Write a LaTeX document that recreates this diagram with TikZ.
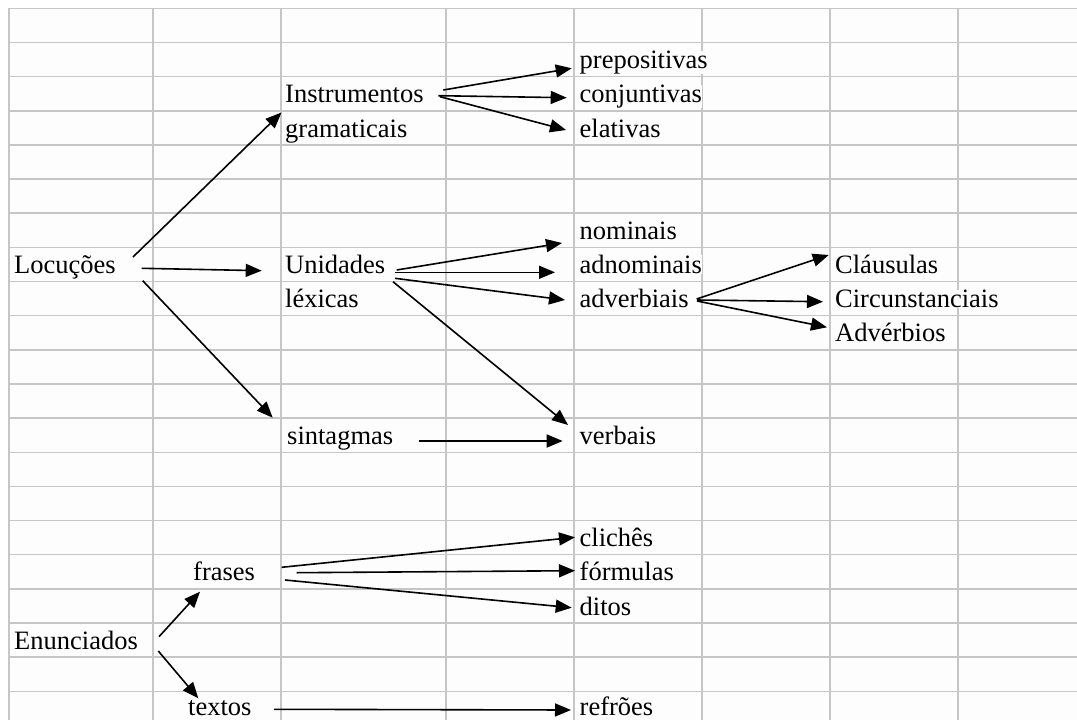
\documentclass[tikz,border=0pt]{standalone}
\usepackage{fontspec}
\setmainfont{Liberation Serif}
\usetikzlibrary{arrows.meta}
\definecolor{gridc}{RGB}{198,198,198}
\definecolor{cellbg}{RGB}{253,253,253}
\tikzset{
  gridline/.style={draw=gridc, line width=1.5pt},
  lbl/.style={anchor=base west, inner sep=0pt, fill=cellbg, font=\fontsize{26.5}{30}\selectfont},
  arr/.style={line width=1.6pt, -{Triangle[length=16pt,width=13pt]}}
}
\begin{document}
\begin{tikzpicture}[x=1pt,y=-1pt]
\useasboundingbox (0,0) rectangle (1077,720);
\fill[white] (0,0) rectangle (1077,720);
\fill[cellbg] (9,8.3) rectangle (1077,720);
\foreach \i in {0,...,20} \draw[gridline] (9,{8.3+34.15*\i}) -- (1077,{8.3+34.15*\i});
\foreach \x in {9,153,281,446,574,702,830,958} \draw[gridline] (\x,8.3) -- (\x,720);

% labels
\node[lbl] (loc) at (14,273.5) {Locuções};
\node[lbl] (ins) at (285,102.8) {Instrumentos};
\node[lbl] (gra) at (285,137) {gramaticais};
\node[lbl] (pre) at (579.5,68.6) {prepositivas};
\node[lbl] (con) at (579.5,102.8) {conjuntivas};
\node[lbl] (ela) at (579.5,137) {elativas};
\node[lbl] (nom) at (579.5,239.4) {nominais};
\node[lbl] (uni) at (285,273.5) {Unidades};
\node[lbl] (lex) at (285,307.7) {léxicas};
\node[lbl] (adn) at (579.5,273.5) {adnominais};
\node[lbl] (adv) at (579.5,307.7) {adverbiais};
\node[lbl] (cla) at (835,273.5) {Cláusulas};
\node[lbl] (cir) at (835,307.7) {Circunstanciais};
\node[lbl] (advb) at (835,341.8) {Advérbios};
\node[lbl] (sin) at (287,444.3) {sintagmas};
\node[lbl] (ver) at (579.5,444.3) {verbais};
\node[lbl] (cli) at (579.5,546.7) {clichês};
\node[lbl] (for) at (579.5,580.8) {fórmulas};
\node[lbl] (dit) at (579.5,615) {ditos};
\node[lbl] (fra) at (193,580.8) {frases};
\node[lbl] (enu) at (14,649.1) {Enunciados};
\node[lbl, text depth=0pt] (tex) at (188,715) {textos};
\node[lbl, text depth=0pt] (ref) at (579.5,715) {refrões};

% connectors
\draw[arr] ([shift={(119,-16.5)}]loc.base west) -- ([shift={(-3.5,9.7)}]ins.base west);
\draw[arr] ([shift={(127.7,-5.2)}]loc.base west) -- ([shift={(-23.3,-2.8)}]uni.base west);
\draw[arr] ([shift={(128.7,7.2)}]loc.base west) -- ([shift={(-14.3,-26.6)}]sin.base west);
\draw[arr] ([shift={(158.3,-12.8)}]ins.base west) -- ([shift={(-7.8,-0.3)}]pre.base west);
\draw[arr] ([shift={(153.3,-7.1)}]ins.base west) -- ([shift={(-12.8,-5.1)}]con.base west);
\draw[arr] ([shift={(155,-6.1)}]ins.base west) -- ([shift={(-13.5,-7)}]ela.base west);
\draw[arr] ([shift={(111.7,-3.5)}]uni.base west) -- ([shift={(-17.5,3.6)}]nom.base west);
\draw[arr] ([shift={(110,-1.2)}]uni.base west) -- ([shift={(-24.5,-1.2)}]adn.base west);
\draw[arr] ([shift={(110,4.8)}]uni.base west) -- ([shift={(-14.5,-7.7)}]adv.base west);
\draw[arr] ([shift={(108,8.2)}]uni.base west) -- ([shift={(-11.5,-19.3)}]ver.base west);
\draw[arr] ([shift={(132.3,-3.3)}]sin.base west) -- ([shift={(-16.8,-3.3)}]ver.base west);
\draw[arr] ([shift={(117.2,-8.7)}]adv.base west) -- ([shift={(-6.3,-18.5)}]cla.base west);
\draw[arr] ([shift={(117.5,-7.7)}]adv.base west) -- ([shift={(-12,-6)}]cir.base west);
\draw[arr] ([shift={(117.5,-6.7)}]adv.base west) -- ([shift={(-8,-14.5)}]advb.base west);
\draw[arr] ([shift={(88.7,-13.5)}]fra.base west) -- ([shift={(-4.5,-9.4)}]cli.base west);
\draw[arr] ([shift={(103.7,-8.1)}]fra.base west) -- ([shift={(-4.5,-10.1)}]for.base west);
\draw[arr] ([shift={(92,-0.8)}]fra.base west) -- ([shift={(-7.8,-7.3)}]dit.base west);
\draw[arr] ([shift={(145,-12.4)}]enu.base west) -- ([shift={(7,10.9)}]fra.base west);
\draw[arr] ([shift={(144.3,1.9)}]enu.base west) -- ([shift={(10.3,-16.7)}]tex.base west);
\draw[arr] ([shift={(86,-5.7)}]tex.base west) -- ([shift={(-8.5,-5)}]ref.base west);
\end{tikzpicture}
\end{document}
